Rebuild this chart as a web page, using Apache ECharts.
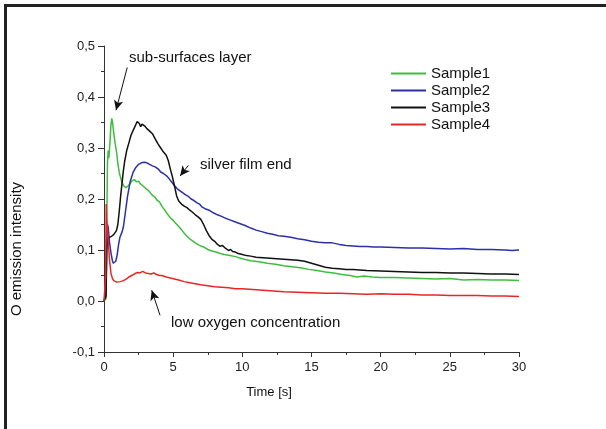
<!DOCTYPE html>
<html>
<head>
<meta charset="utf-8">
<script src="https://cdn.jsdelivr.net/npm/echarts@6/dist/echarts.min.js"></script>
<style>
  html, body { margin: 0; padding: 0; background: #fff; }
  #chart { width: 606px; height: 429px; }
</style>
</head>
<body>
<div id="chart"></div>
<script>
// O emission intensity vs. time, [time in s, intensity]
const sample1 = [
  [0,0],[0.1,0],[0.15,0.005],[0.2,0.15],[0.25,0.27],[0.3,0.295],[0.35,0.28],[0.4,0.3],[0.45,0.32],[0.5,0.345],
  [0.56,0.358],[0.62,0.35],[0.7,0.33],[0.8,0.31],[0.92,0.29],[1.0,0.27],[1.1,0.252],[1.2,0.242],[1.3,0.232],
  [1.45,0.225],[1.6,0.222],[1.75,0.226],[1.9,0.231],[2.05,0.236],[2.2,0.238],[2.35,0.234],[2.5,0.235],[2.65,0.229],
  [2.8,0.226],[3.0,0.221],[3.15,0.218],[3.3,0.214],[3.5,0.207],[3.7,0.203],[3.85,0.197],[4.0,0.195],[4.2,0.185],
  [4.4,0.178],[4.6,0.17],[4.8,0.163],[5.0,0.158],[5.2,0.152],[5.4,0.146],[5.6,0.14],[5.8,0.133],[6.0,0.127],
  [6.2,0.122],[6.4,0.118],[6.6,0.114],[6.9,0.109],[7.2,0.106],[7.5,0.101],[7.8,0.098],[8.1,0.096],[8.4,0.093],
  [8.7,0.091],[9.1,0.089],[9.5,0.087],[10,0.083],[10.6,0.079],[11.2,0.077],[11.8,0.074],[12.4,0.072],[13,0.069],
  [13.6,0.067],[14.2,0.065],[14.8,0.062],[15.4,0.06],[16,0.057],[16.6,0.055],[17.2,0.052],[17.8,0.05],[18.3,0.047],
  [18.8,0.049],[19.4,0.047],[20,0.046],[21,0.046],[22,0.045],[23,0.044],[24,0.043],[25,0.044],[26,0.041],
  [27,0.042],[28,0.041],[29,0.041],[30,0.04]
];
const sample2 = [
  [0,0],[0.1,0],[0.15,0.02],[0.2,0.13],[0.25,0.15],[0.3,0.145],[0.35,0.13],[0.4,0.115],[0.5,0.095],[0.6,0.08],
  [0.67,0.074],[0.75,0.073],[0.85,0.078],[0.95,0.09],[1.05,0.11],[1.15,0.125],[1.3,0.135],[1.4,0.145],[1.55,0.175],
  [1.7,0.205],[1.9,0.235],[2.1,0.252],[2.3,0.262],[2.5,0.268],[2.7,0.271],[2.9,0.272],[3.1,0.271],[3.3,0.268],
  [3.5,0.265],[3.7,0.263],[3.8,0.262],[3.95,0.258],[4.1,0.253],[4.3,0.25],[4.5,0.246],[4.7,0.24],[4.9,0.233],
  [5.1,0.226],[5.3,0.22],[5.5,0.216],[5.7,0.212],[5.9,0.208],[6.1,0.205],[6.3,0.2],[6.5,0.197],[6.7,0.193],
  [6.9,0.19],[7.1,0.184],[7.3,0.181],[7.6,0.178],[7.9,0.173],[8.2,0.169],[8.5,0.166],[8.8,0.162],[9.1,0.159],
  [9.5,0.155],[9.8,0.152],[10.2,0.148],[10.6,0.143],[11,0.139],[11.4,0.136],[11.8,0.133],[12.2,0.131],[12.6,0.128],
  [13,0.127],[13.5,0.125],[14,0.122],[14.5,0.12],[15,0.117],[15.5,0.115],[16,0.114],[16.5,0.114],[17,0.111],
  [17.5,0.109],[18,0.108],[18.5,0.107],[19,0.107],[19.5,0.106],[20,0.106],[21,0.105],[22,0.104],[23,0.104],
  [24,0.103],[25,0.102],[26,0.103],[27,0.101],[28,0.101],[29,0.1],[29.5,0.099],[30,0.1]
];
const sample3 = [
  [0,0],[0.1,0],[0.15,0.01],[0.2,0.1],[0.25,0.12],[0.3,0.125],[0.4,0.122],[0.5,0.126],[0.6,0.128],[0.7,0.13],
  [0.8,0.132],[0.9,0.138],[1.0,0.15],[1.1,0.175],[1.2,0.205],[1.3,0.23],[1.4,0.255],[1.5,0.275],[1.64,0.295],
  [1.8,0.31],[1.95,0.325],[2.1,0.334],[2.25,0.343],[2.4,0.352],[2.48,0.354],[2.55,0.348],[2.65,0.342],[2.75,0.347],
  [2.85,0.349],[2.95,0.343],[3.1,0.338],[3.3,0.333],[3.5,0.328],[3.7,0.318],[3.9,0.308],[4.1,0.3],[4.3,0.292],
  [4.5,0.286],[4.65,0.275],[4.8,0.258],[4.95,0.243],[5.1,0.225],[5.25,0.206],[5.4,0.196],[5.6,0.19],[5.8,0.186],
  [6.0,0.183],[6.2,0.178],[6.4,0.174],[6.6,0.169],[6.8,0.165],[7.0,0.16],[7.2,0.15],[7.4,0.138],[7.6,0.128],
  [7.8,0.121],[8.0,0.117],[8.2,0.111],[8.4,0.107],[8.55,0.109],[8.8,0.103],[9.0,0.099],[9.15,0.101],[9.3,0.097],
  [9.5,0.096],[9.7,0.093],[10,0.091],[10.3,0.089],[10.6,0.088],[11,0.086],[11.5,0.085],[12,0.084],[12.5,0.083],
  [13,0.082],[13.5,0.081],[14,0.08],[14.5,0.078],[15,0.074],[15.5,0.07],[16,0.066],[16.5,0.064],[17,0.063],
  [17.5,0.062],[18,0.062],[18.5,0.061],[19,0.06],[20,0.059],[21,0.058],[22,0.057],[23,0.056],[24,0.056],
  [25,0.055],[26,0.055],[27,0.054],[28,0.053],[29,0.053],[30,0.052]
];
const sample4 = [
  [0,0],[0.1,0],[0.12,0.05],[0.16,0.19],[0.2,0.16],[0.25,0.14],[0.3,0.12],[0.4,0.08],[0.5,0.055],[0.6,0.045],
  [0.7,0.04],[0.8,0.038],[0.92,0.037],[1.05,0.036],[1.2,0.038],[1.4,0.04],[1.6,0.043],[1.8,0.047],[2.0,0.05],
  [2.2,0.053],[2.4,0.056],[2.6,0.055],[2.8,0.058],[3.0,0.055],[3.2,0.054],[3.4,0.053],[3.6,0.055],[3.8,0.052],
  [4.0,0.05],[4.2,0.05],[4.5,0.047],[4.8,0.045],[5.1,0.043],[5.4,0.041],[5.8,0.038],[6.2,0.036],[6.6,0.034],
  [7.0,0.032],[7.5,0.03],[8,0.028],[8.5,0.027],[9,0.026],[9.5,0.024],[10,0.024],[11,0.022],[12,0.02],[13,0.018],
  [14,0.017],[15,0.016],[16,0.015],[17,0.015],[18,0.014],[19,0.013],[20,0.014],[21,0.013],[22,0.013],[23,0.012],
  [24,0.012],[25,0.011],[26,0.011],[27,0.011],[28,0.01],[29,0.01],[30,0.009]
];

const seriesNames = ['Sample1', 'Sample2', 'Sample3', 'Sample4'];
const seriesColors = ['#3fbd3f', '#2b30a8', '#111111', '#e82626'];
const seriesData = [sample1, sample2, sample3, sample4];

// Annotation arrows in data space: [from, to], head at "to"
const arrows = [
  [[1.68, 0.458], [0.87, 0.374]],
  [[6.1, 0.266], [5.5, 0.245]],
  [[4.05, -0.028], [3.45, 0.021]]
];

const FONT = '"Liberation Sans", Arial, sans-serif';
const chart = echarts.init(document.getElementById('chart'), null, { renderer: 'canvas' });

const series = seriesNames.map((name, i) => ({
  name: name,
  type: 'line',
  data: seriesData[i],
  symbol: 'none',
  smooth: false,
  lineStyle: { color: seriesColors[i], width: 1.5 },
  itemStyle: { color: seriesColors[i] },
  emphasis: { disabled: true },
  z: 2
}));

series[2].markLine = {
  silent: true,
  symbol: ['none', 'arrow'],
  symbolSize: [7, 10],
  lineStyle: { color: '#111', width: 1, type: 'solid' },
  label: { show: false },
  emphasis: { disabled: true },
  data: arrows.map(a => [{ coord: a[0] }, { coord: a[1] }])
};

chart.setOption({
  animation: false,
  backgroundColor: '#fff',
  textStyle: { fontFamily: FONT },
  grid: { left: 104, right: 87, top: 46, bottom: 77, containLabel: false },
  legend: {
    orient: 'vertical',
    left: 390,
    top: 65,
    padding: 0,
    itemWidth: 35,
    itemHeight: 14,
    itemGap: 0,
    selectedMode: false,
    itemStyle: { opacity: 0 },
    data: seriesNames,
    textStyle: { fontFamily: FONT, fontSize: 15, color: '#111', lineHeight: 17 }
  },
  xAxis: {
    type: 'value',
    min: 0, max: 30, interval: 5,
    axisLine: { show: true, onZero: false, lineStyle: { color: '#333', width: 1 } },
    axisTick: { show: true, inside: false, length: 5, lineStyle: { color: '#333' } },
    minorTick: { show: true, splitNumber: 2, length: 3, lineStyle: { color: '#333' } },
    splitLine: { show: false },
    axisLabel: { fontFamily: FONT, fontSize: 13, color: '#222', margin: 9 }
  },
  yAxis: {
    type: 'value',
    min: -0.1, max: 0.5, interval: 0.1,
    axisLine: { show: true, onZero: false, lineStyle: { color: '#333', width: 1 } },
    axisTick: { show: true, inside: false, length: 6, lineStyle: { color: '#333' } },
    minorTick: { show: true, splitNumber: 2, length: 3, lineStyle: { color: '#333' } },
    splitLine: { show: false },
    axisLabel: {
      fontFamily: FONT, fontSize: 13, color: '#222', margin: 9,
      formatter: v => (Math.abs(v) < 1e-9 ? 0 : v).toFixed(1).replace('.', ',')
    }
  },
  series: series,
  graphic: [
    // page frame
    { type: 'rect', left: 4, top: 4, shape: { width: 602, height: 3 }, style: { fill: '#222' }, silent: true },
    { type: 'rect', left: 4, top: 4, shape: { width: 3, height: 425 }, style: { fill: '#222' }, silent: true },
    // axis titles
    { type: 'text', x: 269, y: 392, style: { text: 'Time [s]', font: '13px ' + FONT, fill: '#111', textAlign: 'center', textVerticalAlign: 'middle' } },
    { type: 'text', x: 17, y: 249, rotation: Math.PI / 2, style: { text: 'O emission intensity', font: '15px ' + FONT, fill: '#111', textAlign: 'center', textVerticalAlign: 'middle' } },
    // annotations
    { type: 'text', x: 129, y: 58, style: { text: 'sub-surfaces layer', font: '15px ' + FONT, fill: '#111', textVerticalAlign: 'middle' } },
    { type: 'text', x: 200, y: 165, style: { text: 'silver film end', font: '15px ' + FONT, fill: '#111', textVerticalAlign: 'middle' } },
    { type: 'text', x: 171, y: 323, style: { text: 'low oxygen concentration', font: '15px ' + FONT, fill: '#111', textVerticalAlign: 'middle' } }
  ]
});
</script>
</body>
</html>
